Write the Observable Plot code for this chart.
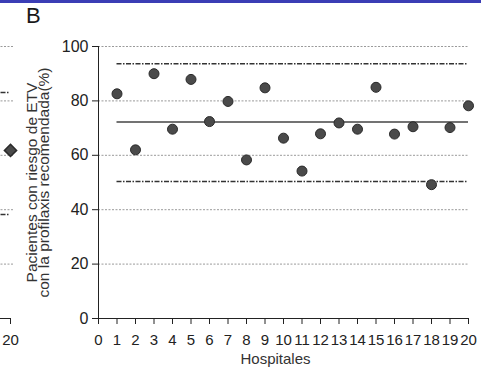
<!DOCTYPE html>
<html><head><meta charset="utf-8">
<script src="https://cdn.jsdelivr.net/npm/d3@7"></script>
<script src="https://cdn.jsdelivr.net/npm/@observablehq/plot@0.6"></script>
<style>
body{margin:0;background:#fff;}
#wrap{position:relative;width:481px;height:376px;overflow:hidden;}
#bar{position:absolute;left:0;top:0;width:481px;height:3px;background:#3b3db5;}
#panel{position:absolute;left:26px;top:5px;font-family:"Liberation Sans",Arial,sans-serif;font-size:22px;line-height:1;color:#1a1a1a;}
#main{position:absolute;left:0;top:0;}
#frag{position:absolute;left:0;top:0;width:22px;height:376px;overflow:hidden;}
</style></head><body>
<div id="wrap"><div id="bar"></div><div id="panel">B</div><div id="main"></div><div id="frag"></div></div>
<script>
const FONT = '"Liberation Sans",Arial,sans-serif';
const hospitals = [1, 2, 3, 4, 5, 6, 7, 8, 9, 10, 11, 12, 13, 14, 15, 16, 17, 18, 19, 20];
const pct = [82.6, 62.0, 90.0, 69.6, 87.9, 72.4, 79.8, 58.3, 84.8, 66.3, 54.2, 67.9, 71.9, 69.6, 85.0, 67.8, 70.5, 49.2, 70.2, 78.2];
const meanValue = 72.2;
const upperLimit = 93.7;
const lowerLimit = 50.4;
const yTicks = [0, 20, 40, 60, 80, 100];
const gridValues = [20, 40, 60, 80, 100];
const xTicks = [0, 1, 2, 3, 4, 5, 6, 7, 8, 9, 10, 11, 12, 13, 14, 15, 16, 17, 18, 19, 20];
const yTitle = "Pacientes con riesgo de ETV\ncon la profilaxis recomendada(%)";
const xTitle = "Hospitales";
// cut-off edge of the neighbouring panel A
const prevHospital = [20];
const prevValue = [61.8];
const prevUpper = 83.1;
const prevLower = 38.2;
const prevTicks = [20];

const data = hospitals.map((h, i) => ({h, v: pct[i]}));

const main = Plot.plot({
  width: 481, height: 376,
  marginLeft: 98, marginRight: 13, marginTop: 46, marginBottom: 58,
  style: {background: "transparent", fontFamily: FONT, fontSize: "15px", color: "#222"},
  x: {domain: [0, 20]},
  y: {domain: [0, 100]},
  marks: [
    Plot.ruleY(gridValues, {x1: 0, x2: 20, stroke: "#9a9a9a", strokeWidth: 1, strokeDasharray: "2,1.5"}),
    Plot.ruleY([upperLimit, lowerLimit], {x1: 1, x2: 20, stroke: "#333", strokeWidth: 1.5, strokeDasharray: "5,1.5,1.5,1.5"}),
    Plot.ruleY([meanValue], {x1: 1, x2: 20, stroke: "#444", strokeWidth: 1.5}),
    Plot.dot(data, {x: "h", y: "v", r: 5, fill: "#4a4a4a", stroke: "#2a2a2a", strokeWidth: 1}),
    Plot.axisX({ticks: xTicks, tickSize: 6, tickPadding: 10, tickFormat: d => String(d), fontSize: 15, label: null, stroke: "#222", fill: "#222"}),
    Plot.axisY({ticks: yTicks, tickSize: 6, tickPadding: 4, tickFormat: d => String(d), fontSize: 16, label: null, stroke: "#222", fill: "#222"}),
    Plot.ruleX([0], {y1: 0, y2: 100, stroke: "#222"}),
    Plot.ruleY([0], {x1: 0, x2: 20, stroke: "#222"}),
    Plot.text([yTitle], {frameAnchor: "left", textAnchor: "middle", dx: -59, rotate: -90, lineHeight: 0.78, fontSize: 15.5, text: d => d, fill: "#333"}),
    Plot.text([xTitle], {frameAnchor: "bottom", textAnchor: "middle", dx: -8, dy: 45, fontSize: 15, text: d => d, fill: "#333"})
  ]
});
document.getElementById("main").appendChild(main);

const frag = Plot.plot({
  width: 22, height: 376,
  marginLeft: -360, marginRight: 12, marginTop: 46, marginBottom: 58,
  style: {background: "transparent", fontFamily: FONT, fontSize: "15px", color: "#222", overflow: "hidden"},
  x: {domain: [0, 20]},
  y: {domain: [0, 100], axis: null},
  marks: [
    Plot.ruleY(gridValues, {x1: 0, x2: 20.2, stroke: "#9a9a9a", strokeWidth: 1, strokeDasharray: "2,1.5"}),
    Plot.ruleY([prevUpper, prevLower], {x1: 1, x2: 20, stroke: "#333", strokeWidth: 1.5, strokeDasharray: "5,1.5,1.5,1.5"}),
    Plot.dot(prevHospital.map((h, i) => ({h, v: prevValue[i]})), {x: "h", y: "v", symbol: "diamond2", r: 5.5, fill: "#4a4a4a", stroke: "#2a2a2a"}),
    Plot.ruleY([0], {x1: 0, x2: 20, stroke: "#222"}),
    Plot.axisX({ticks: prevTicks, tickSize: 6, tickPadding: 10, tickFormat: d => String(d), fontSize: 15, label: null, stroke: "#222", fill: "#222"})
  ]
});
document.getElementById("frag").appendChild(frag);
</script>
</body></html>
